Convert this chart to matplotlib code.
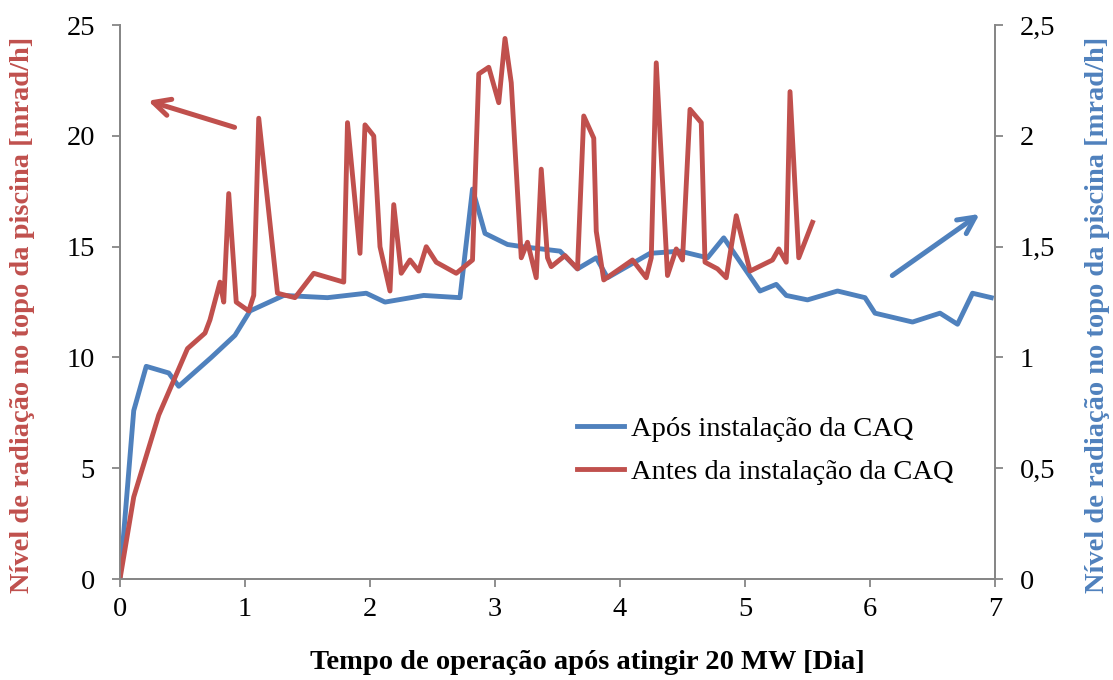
import matplotlib
matplotlib.use('Agg')
from matplotlib import pyplot as plt
from matplotlib.ticker import FuncFormatter

# Dados
# Antes da instalação da CAQ (eixo esquerdo, mrad/h)
dias_antes = [0, 0.11, 0.31, 0.54, 0.68, 0.72, 0.80, 0.83, 0.87, 0.93,
              1.03, 1.07, 1.11, 1.26, 1.40, 1.55, 1.79, 1.82, 1.92, 1.96,
              2.03, 2.08, 2.16, 2.19, 2.25, 2.32, 2.39, 2.45, 2.53, 2.69,
              2.82, 2.87, 2.95, 3.03, 3.08, 3.13, 3.21, 3.26, 3.33, 3.37,
              3.42, 3.45, 3.56, 3.66, 3.71, 3.79, 3.81, 3.87, 4.10, 4.21,
              4.25, 4.29, 4.38, 4.45, 4.50, 4.56, 4.65, 4.68, 4.78, 4.85,
              4.93, 5.04, 5.22, 5.27, 5.33, 5.36, 5.43, 5.54]
nivel_antes = [0, 3.7, 7.4, 10.4, 11.1, 11.7, 13.4, 12.5, 17.4, 12.5,
               12.1, 12.8, 20.8, 12.9, 12.7, 13.8, 13.4, 20.6, 14.7, 20.5,
               20.0, 15.0, 13.0, 16.9, 13.8, 14.4, 13.9, 15.0, 14.3, 13.8,
               14.4, 22.8, 23.1, 21.5, 24.4, 22.4, 14.5, 15.2, 13.6, 18.5,
               14.5, 14.1, 14.6, 14.0, 20.9, 19.9, 15.7, 13.5, 14.4, 13.6,
               14.5, 23.3, 13.7, 14.9, 14.4, 21.2, 20.6, 14.3, 14.0, 13.6,
               16.4, 13.9, 14.4, 14.9, 14.3, 22.0, 14.5, 16.1]

# Após instalação da CAQ (eixo direito, mrad/h)
dias_apos = [0, 0.11, 0.21, 0.39, 0.47, 0.73, 0.92, 1.04, 1.31, 1.66,
             1.97, 2.12, 2.43, 2.72, 2.82, 2.92, 3.10, 3.22, 3.52, 3.66,
             3.81, 3.90, 4.24, 4.48, 4.70, 4.83, 5.12, 5.25, 5.33, 5.50,
             5.74, 5.96, 6.04, 6.34, 6.56, 6.70, 6.82, 6.97]
nivel_apos = [0.0, 0.76, 0.96, 0.93, 0.87, 1.00, 1.10, 1.21, 1.28, 1.27,
              1.29, 1.25, 1.28, 1.27, 1.76, 1.56, 1.51, 1.50, 1.48, 1.40,
              1.45, 1.36, 1.47, 1.48, 1.45, 1.54, 1.30, 1.33, 1.28, 1.26,
              1.30, 1.27, 1.20, 1.16, 1.20, 1.15, 1.29, 1.27]

x_ticks = [0, 1, 2, 3, 4, 5, 6, 7]
y_left_ticks = [0, 5, 10, 15, 20, 25]
y_right_ticks = [0, 0.5, 1, 1.5, 2, 2.5]

red = '#C0504D'
blue = '#4F81BD'
grey = '#868686'

plt.rcParams['font.family'] = ['Liberation Serif', 'DejaVu Serif']

fig = plt.figure(figsize=(11.13, 6.8), dpi=100)
ax = fig.add_axes([0.1078, 0.1485, 0.7862, 0.8145])
ax2 = ax.twinx()

l_apos, = ax2.plot(dias_apos, nivel_apos, color=blue, lw=3.5,
                   solid_joinstyle='round', label='Após instalação da CAQ')
l_antes, = ax.plot(dias_antes, nivel_antes, color=red, lw=3.5,
                   solid_joinstyle='round', label='Antes da instalação da CAQ')
ax.set_zorder(ax2.get_zorder() + 1)
ax.patch.set_visible(False)

ax.set_xlim(0, 7)
ax.set_ylim(0, 25)
ax2.set_ylim(0, 2.5)
ax.set_xticks(x_ticks)
ax.set_yticks(y_left_ticks)
ax2.set_yticks(y_right_ticks)
ax2.yaxis.set_major_formatter(FuncFormatter(lambda v, p: ('%g' % v).replace('.', ',')))

for a in (ax, ax2):
    a.spines['top'].set_visible(False)
    for s in ('left', 'right', 'bottom'):
        a.spines[s].set_color(grey)
        a.spines[s].set_linewidth(1.3)
    a.tick_params(axis='both', colors=grey, labelcolor='black', labelsize=20.5,
                  width=1.3, length=6, direction='out')
ax.tick_params(axis='x', pad=7)
ax.tick_params(axis='y', pad=12)
ax2.tick_params(axis='y', pad=12)

ax.set_xlabel('Tempo de operação após atingir 20 MW [Dia]', fontsize=20.5,
              fontweight='bold')
ax.xaxis.set_label_coords(0.534, -0.128)
ax.set_ylabel('Nível de radiação no topo da piscina [mrad/h]', fontsize=20.5,
              fontweight='bold', color=red)
ax.yaxis.set_label_coords(-0.097, 0.477)
ax2.set_ylabel('Nível de radiação no topo da piscina [mrad/h]', fontsize=20.5,
               fontweight='bold', color=blue, rotation=90)
ax2.yaxis.set_label_coords(1.103, 0.477)

ax.legend(handles=[l_apos, l_antes], loc='center left',
          bbox_to_anchor=(0.522, 0.232), frameon=False, fontsize=20.5,
          handlelength=1.65, handletextpad=0.25, labelspacing=0.58,
          borderpad=0, borderaxespad=0)

# Setas indicando o eixo de cada série
ax.annotate('', xy=(0.029, 0.865), xytext=(0.134, 0.814), xycoords='axes fraction',
            arrowprops=dict(arrowstyle='->,head_length=1.2,head_width=0.6',
                            lw=3.6, color=red))
ax.annotate('', xy=(0.985, 0.662), xytext=(0.88, 0.545), xycoords='axes fraction',
            arrowprops=dict(arrowstyle='->,head_length=1.2,head_width=0.6',
                            lw=3.6, color=blue))

fig.savefig('out.png', dpi=100)
